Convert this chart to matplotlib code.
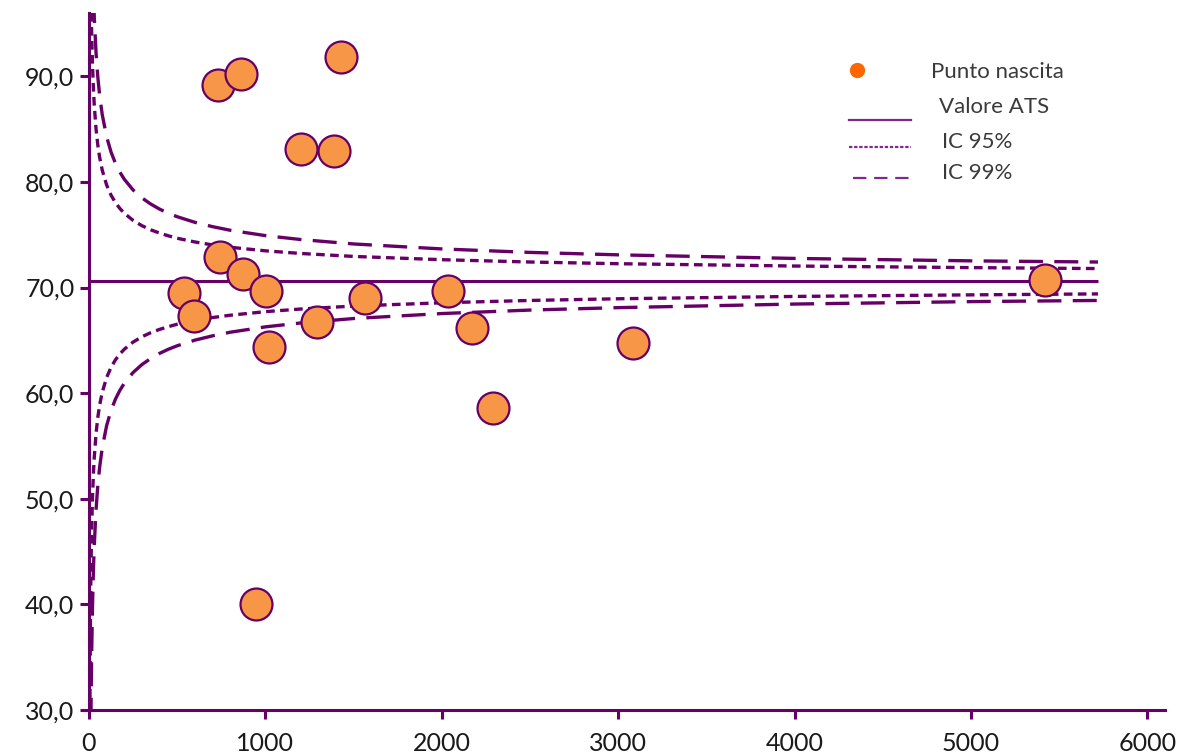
import matplotlib
matplotlib.use("Agg")
import matplotlib.pyplot as plt
from matplotlib.lines import Line2D
from matplotlib.ticker import FuncFormatter

plt.rcParams['font.family'] = ['Lato', 'DejaVu Sans']

# ---- data ----
births = [729, 862, 1426, 1203, 1388, 740, 873, 536, 597, 1006, 1021, 1294,
          1563, 2036, 2174, 2288, 3083, 5422, 949]
values = [89.2, 90.2, 91.85, 83.1, 82.9, 72.9, 71.3, 69.5, 67.3, 69.65, 64.4,
          66.7, 69.0, 69.65, 66.2, 58.6, 64.76, 70.76, 40.0]

ats_x = [0, 5720]
ats_y = [70.6, 70.6]

lim_n = [5, 8, 10, 12, 15, 20, 25, 30, 40, 50, 60, 75, 100, 125, 150, 175, 200,
         250, 300, 350, 400, 450, 500, 600, 700, 800, 1000, 1200, 1500, 2000,
         2500, 3000, 4000, 5000, 5720]
ic95_up = [111.35, 102.82, 99.42, 96.90, 94.13, 90.98, 88.82, 87.24, 85.01, 83.49,
           82.36, 81.12, 79.71, 78.75, 78.04, 77.49, 77.04, 76.36, 75.86, 75.47,
           75.16, 74.90, 74.67, 74.32, 74.04, 73.82, 73.48, 73.23, 72.95, 72.64,
           72.42, 72.26, 72.04, 71.89, 71.80]
ic95_lo = [29.85, 38.38, 41.78, 44.30, 47.07, 50.22, 52.38, 53.96, 56.19, 57.71,
           58.84, 60.08, 61.49, 62.45, 63.16, 63.71, 64.16, 64.84, 65.34, 65.73,
           66.04, 66.30, 66.53, 66.88, 67.16, 67.38, 67.72, 67.97, 68.25, 68.56,
           68.78, 68.94, 69.16, 69.31, 69.40]
ic99_up = [131.7, 118.93, 113.8, 110.06, 105.89, 101.2, 97.94, 95.56, 92.21, 89.93,
           88.25, 86.38, 84.27, 82.83, 81.76, 80.93, 80.26, 79.24, 78.49, 77.91,
           77.43, 77.04, 76.71, 76.18, 75.77, 75.43, 74.92, 74.55, 74.13, 73.66,
           73.33, 73.10, 72.76, 72.53, 72.42]
ic99_lo = [9.5, 22.27, 27.4, 31.14, 35.31, 40.0, 43.26, 45.64, 48.99, 51.27,
           52.95, 54.82, 56.93, 58.37, 59.44, 60.27, 60.94, 61.96, 62.71, 63.29,
           63.77, 64.16, 64.49, 65.02, 65.43, 65.77, 66.28, 66.65, 67.07, 67.54,
           67.87, 68.10, 68.44, 68.67, 68.78]

x_ticks = [0, 1000, 2000, 3000, 4000, 5000, 6000]
y_ticks = [30, 40, 50, 60, 70, 80, 90]

legend_labels = ["Punto nascita", "Valore ATS", "IC 95%", "IC 99%"]

# ---- styling ----
PURPLE = "#660066"
LEG_PURPLE = "#7d2a8c"
ORANGE = "#F79646"
TXT = "#1a1a1a"

W, H = 1190, 756
fig = plt.figure(figsize=(W / 100, H / 100), dpi=100)
ax = fig.add_axes([89 / W, 1 - 710 / H, (1165 - 89) / W, (710 - 13) / H])

lw = 2.4
ax.plot(ats_x, ats_y, color=PURPLE, lw=2.2, solid_capstyle='butt', zorder=2)
for up, lo, d in [(ic95_up, ic95_lo, (2.6, 1.6)), (ic99_up, ic99_lo, (7.2, 3.4))]:
    ax.plot(lim_n, up, color=PURPLE, lw=lw, dashes=d, zorder=2)
    ax.plot(lim_n, lo, color=PURPLE, lw=lw, dashes=d, zorder=2)

ax.scatter(births, values, s=23 ** 2, color=ORANGE, edgecolor=PURPLE,
           linewidth=1.6, zorder=3)

ax.set_xlim(0, 6100)
ax.set_ylim(30, 96)
ax.set_xticks(x_ticks)
ax.set_yticks(y_ticks)
ax.yaxis.set_major_formatter(FuncFormatter(lambda v, p: f"{v:.1f}".replace(".", ",")))
ax.xaxis.set_major_formatter(FuncFormatter(lambda v, p: f"{int(v)}"))

for s in ["top", "right"]:
    ax.spines[s].set_visible(False)
for s in ["left", "bottom"]:
    ax.spines[s].set_color(PURPLE)
    ax.spines[s].set_linewidth(2.2)
ax.tick_params(axis='both', colors=PURPLE, width=2.2, length=6.5,
               labelcolor=TXT, labelsize=18)
ax.tick_params(axis='x', pad=9)
ax.tick_params(axis='y', pad=4)

# ---- legend (manual, figure pixel coordinates) ----
def fx(px):
    return px / W

def fy(py):
    return 1 - py / H

LEG_TXT = "#3a3a3a"
LEG_FS = 16
fig.add_artist(Line2D([fx(857)], [fy(70)], marker='o', markersize=11,
                      color="#FF6600", markeredgewidth=0, linestyle='none'))
fig.text(fx(931), fy(72), legend_labels[0], fontsize=LEG_FS, color=LEG_TXT,
         va='center', ha='left')
fig.add_artist(Line2D([fx(849), fx(911)], [fy(120), fy(120)], color=LEG_PURPLE, lw=1.6))
fig.text(fx(939), fy(107), legend_labels[1], fontsize=LEG_FS, color=LEG_TXT,
         va='center', ha='left')
fig.add_artist(Line2D([fx(849), fx(911)], [fy(147), fy(147)], color=LEG_PURPLE,
                      lw=1.6, dashes=(1.5, 0.8)))
fig.text(fx(942), fy(142), legend_labels[2], fontsize=LEG_FS, color=LEG_TXT,
         va='center', ha='left')
fig.add_artist(Line2D([fx(853), fx(911)], [fy(178), fy(178)], color=LEG_PURPLE,
                      lw=1.6, dashes=(6, 3.5)))
fig.text(fx(942), fy(173), legend_labels[3], fontsize=LEG_FS, color=LEG_TXT,
         va='center', ha='left')

fig.savefig("out.png", dpi=100)
